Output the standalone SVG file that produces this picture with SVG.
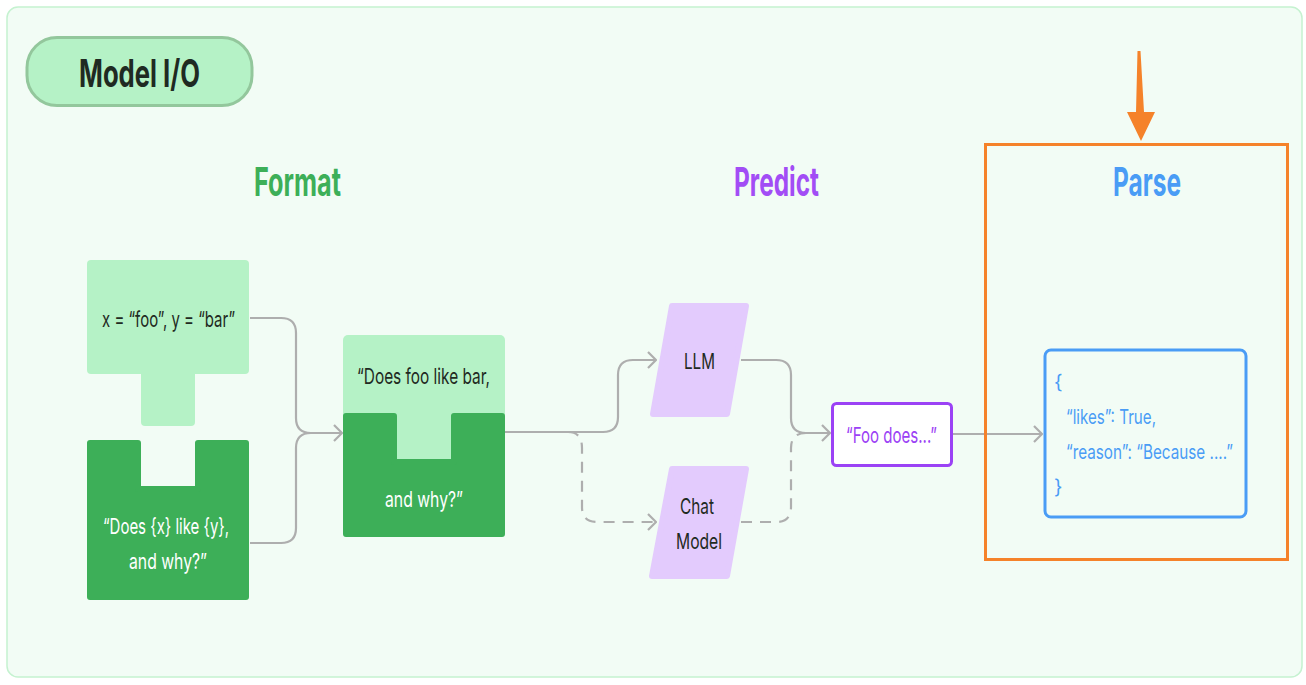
<svg xmlns="http://www.w3.org/2000/svg" width="1306" height="685" viewBox="0 0 1306 685">
<style>
.t{font-family:Inter,"Liberation Sans",sans-serif;font-size:22px;fill:#1f2a22}
.w{fill:#ffffff}
.h{font-family:Inter,"Liberation Sans",sans-serif;font-weight:700;font-size:40px}
.conn{fill:none;stroke:#aeaeae;stroke-width:2.2}
.dash{stroke-dasharray:11 8}
.lg{fill:#b5f2c6}
.dg{fill:#3daf58;stroke:#3daf58;stroke-width:6;stroke-linejoin:round}
.pp{fill:#e3cbfd;stroke:#e3cbfd;stroke-width:6;stroke-linejoin:round}
.bl{font-family:Inter,"Liberation Sans",sans-serif;font-size:20px;fill:#4a9cf5}
</style>
<defs>
<marker id="arr" markerUnits="userSpaceOnUse" viewBox="0 0 10 18" refX="9" refY="9" markerWidth="10" markerHeight="18" orient="auto">
<path d="M1,1 L9,9 L1,17" fill="none" stroke="#aeaeae" stroke-width="2.2"/>
</marker>
</defs>
<rect x="7" y="7" width="1295" height="670" rx="11" fill="#f2fcf5" stroke="#c5f2d0" stroke-width="1.5"/>
<g id="title">
<rect x="27" y="37.5" width="225" height="68" rx="30" fill="#b5f2c6" stroke="#93c79c" stroke-width="3"/>
<text x="139.5" y="87" text-anchor="middle" class="h" style="font-size:38px;fill:#1f2a22" textLength="121" lengthAdjust="spacingAndGlyphs">Model I/O</text>
</g>
<g id="headings">
<text x="297.5" y="196" text-anchor="middle" class="h" style="fill:#3daf58" textLength="87" lengthAdjust="spacingAndGlyphs">Format</text>
<text x="776.5" y="196" text-anchor="middle" class="h" style="fill:#a24df5" textLength="85" lengthAdjust="spacingAndGlyphs">Predict</text>
<text x="1147" y="196" text-anchor="middle" class="h" style="fill:#4a9cf5" textLength="68" lengthAdjust="spacingAndGlyphs">Parse</text>
</g>
<g id="connectors">
<path class="conn" d="M250,318 L281,318 Q296,318 296,333 L296,418 Q296,433 311,433 L342,433" marker-end="url(#arr)"/>
<path class="conn" d="M250,543 L281,543 Q296,543 296,528 L296,448 Q296,433 311,433"/>
<path class="conn" d="M505,432 L603,432 Q618,432 618,417 L618,375 Q618,360 633,360 L656,360" marker-end="url(#arr)"/>
<path class="conn dash" d="M568,432 Q582,432 582,448 L582,507 Q582,522 597,522 L656,522" marker-end="url(#arr)"/>
<path class="conn" d="M741,360 L776,360 Q791,360 791,375 L791,418 Q791,433 806,433 L830,433" marker-end="url(#arr)"/>
<path class="conn dash" d="M741,522 L776,522 Q791,522 791,507 L791,448 Q791,433 806,433"/>
<path class="conn" d="M953,434 L1042,434" marker-end="url(#arr)"/>
</g>
<g id="vars">
<rect x="87" y="260" width="162" height="114" rx="4" class="lg"/>
<rect x="141" y="360" width="54" height="66" rx="4" class="lg"/>
<text x="168.5" y="327" text-anchor="middle" class="t" textLength="133" lengthAdjust="spacingAndGlyphs">x = “foo”, y = “bar”</text>
</g>
<g id="template">
<path class="dg" d="M90,443 L138,443 L138,489 L198,489 L198,443 L246,443 L246,597 L90,597 Z"/>
<text x="166" y="534" text-anchor="middle" class="t w" textLength="126" lengthAdjust="spacingAndGlyphs">“Does {x} like {y},</text>
<text x="168" y="569" text-anchor="middle" class="t w" textLength="78" lengthAdjust="spacingAndGlyphs">and why?”</text>
</g>
<g id="prompt">
<rect x="343" y="335" width="162" height="90" rx="5" class="lg"/>
<path class="dg" d="M346,416 L394,416 L394,462 L454,462 L454,416 L502,416 L502,534 L346,534 Z"/>
<rect x="397" y="410" width="54" height="49" class="lg"/>
<text x="423.5" y="384" text-anchor="middle" class="t" textLength="133" lengthAdjust="spacingAndGlyphs">“Does foo like bar,</text>
<text x="424" y="507" text-anchor="middle" class="t w" textLength="78" lengthAdjust="spacingAndGlyphs">and why?”</text>
</g>
<g id="llm">
<path class="pp" d="M672,306 L746,306 L727,414 L653,414 Z"/>
<text x="699.5" y="369" text-anchor="middle" class="t" textLength="31" lengthAdjust="spacingAndGlyphs">LLM</text>
</g>
<g id="chatmodel">
<path class="pp" d="M672,469 L746,469 L727,576 L652,576 Z"/>
<text x="697" y="514" text-anchor="middle" class="t" textLength="34" lengthAdjust="spacingAndGlyphs">Chat</text>
<text x="699" y="549" text-anchor="middle" class="t" textLength="46" lengthAdjust="spacingAndGlyphs">Model</text>
</g>
<g id="output">
<rect x="832.5" y="403.5" width="119" height="62" rx="4" fill="#ffffff" stroke="#9b42f5" stroke-width="3"/>
<text x="891.5" y="443" text-anchor="middle" class="t" style="fill:#9b42f5" textLength="91" lengthAdjust="spacingAndGlyphs">“Foo does...”</text>
</g>
<g id="parse">
<rect x="985.5" y="144.5" width="302" height="415" fill="none" stroke="#f5822a" stroke-width="3"/>
<polygon points="1137.5,51 1140.5,51 1144,112 1155,112 1141,141 1127,112 1136,112" fill="#f5822a"/>
</g>
<g id="parsed">
<rect x="1045" y="350" width="201" height="167" rx="6" fill="#f2fcf5" stroke="#4a9cf5" stroke-width="3"/>
<text x="1054" y="389" class="bl">{</text>
<text x="1066" y="424" class="bl" textLength="90" lengthAdjust="spacingAndGlyphs">“likes”: True,</text>
<text x="1066" y="459" class="bl" textLength="167" lengthAdjust="spacingAndGlyphs">“reason”: “Because ....”</text>
<text x="1054" y="494" class="bl">}</text>
</g>
</svg>
